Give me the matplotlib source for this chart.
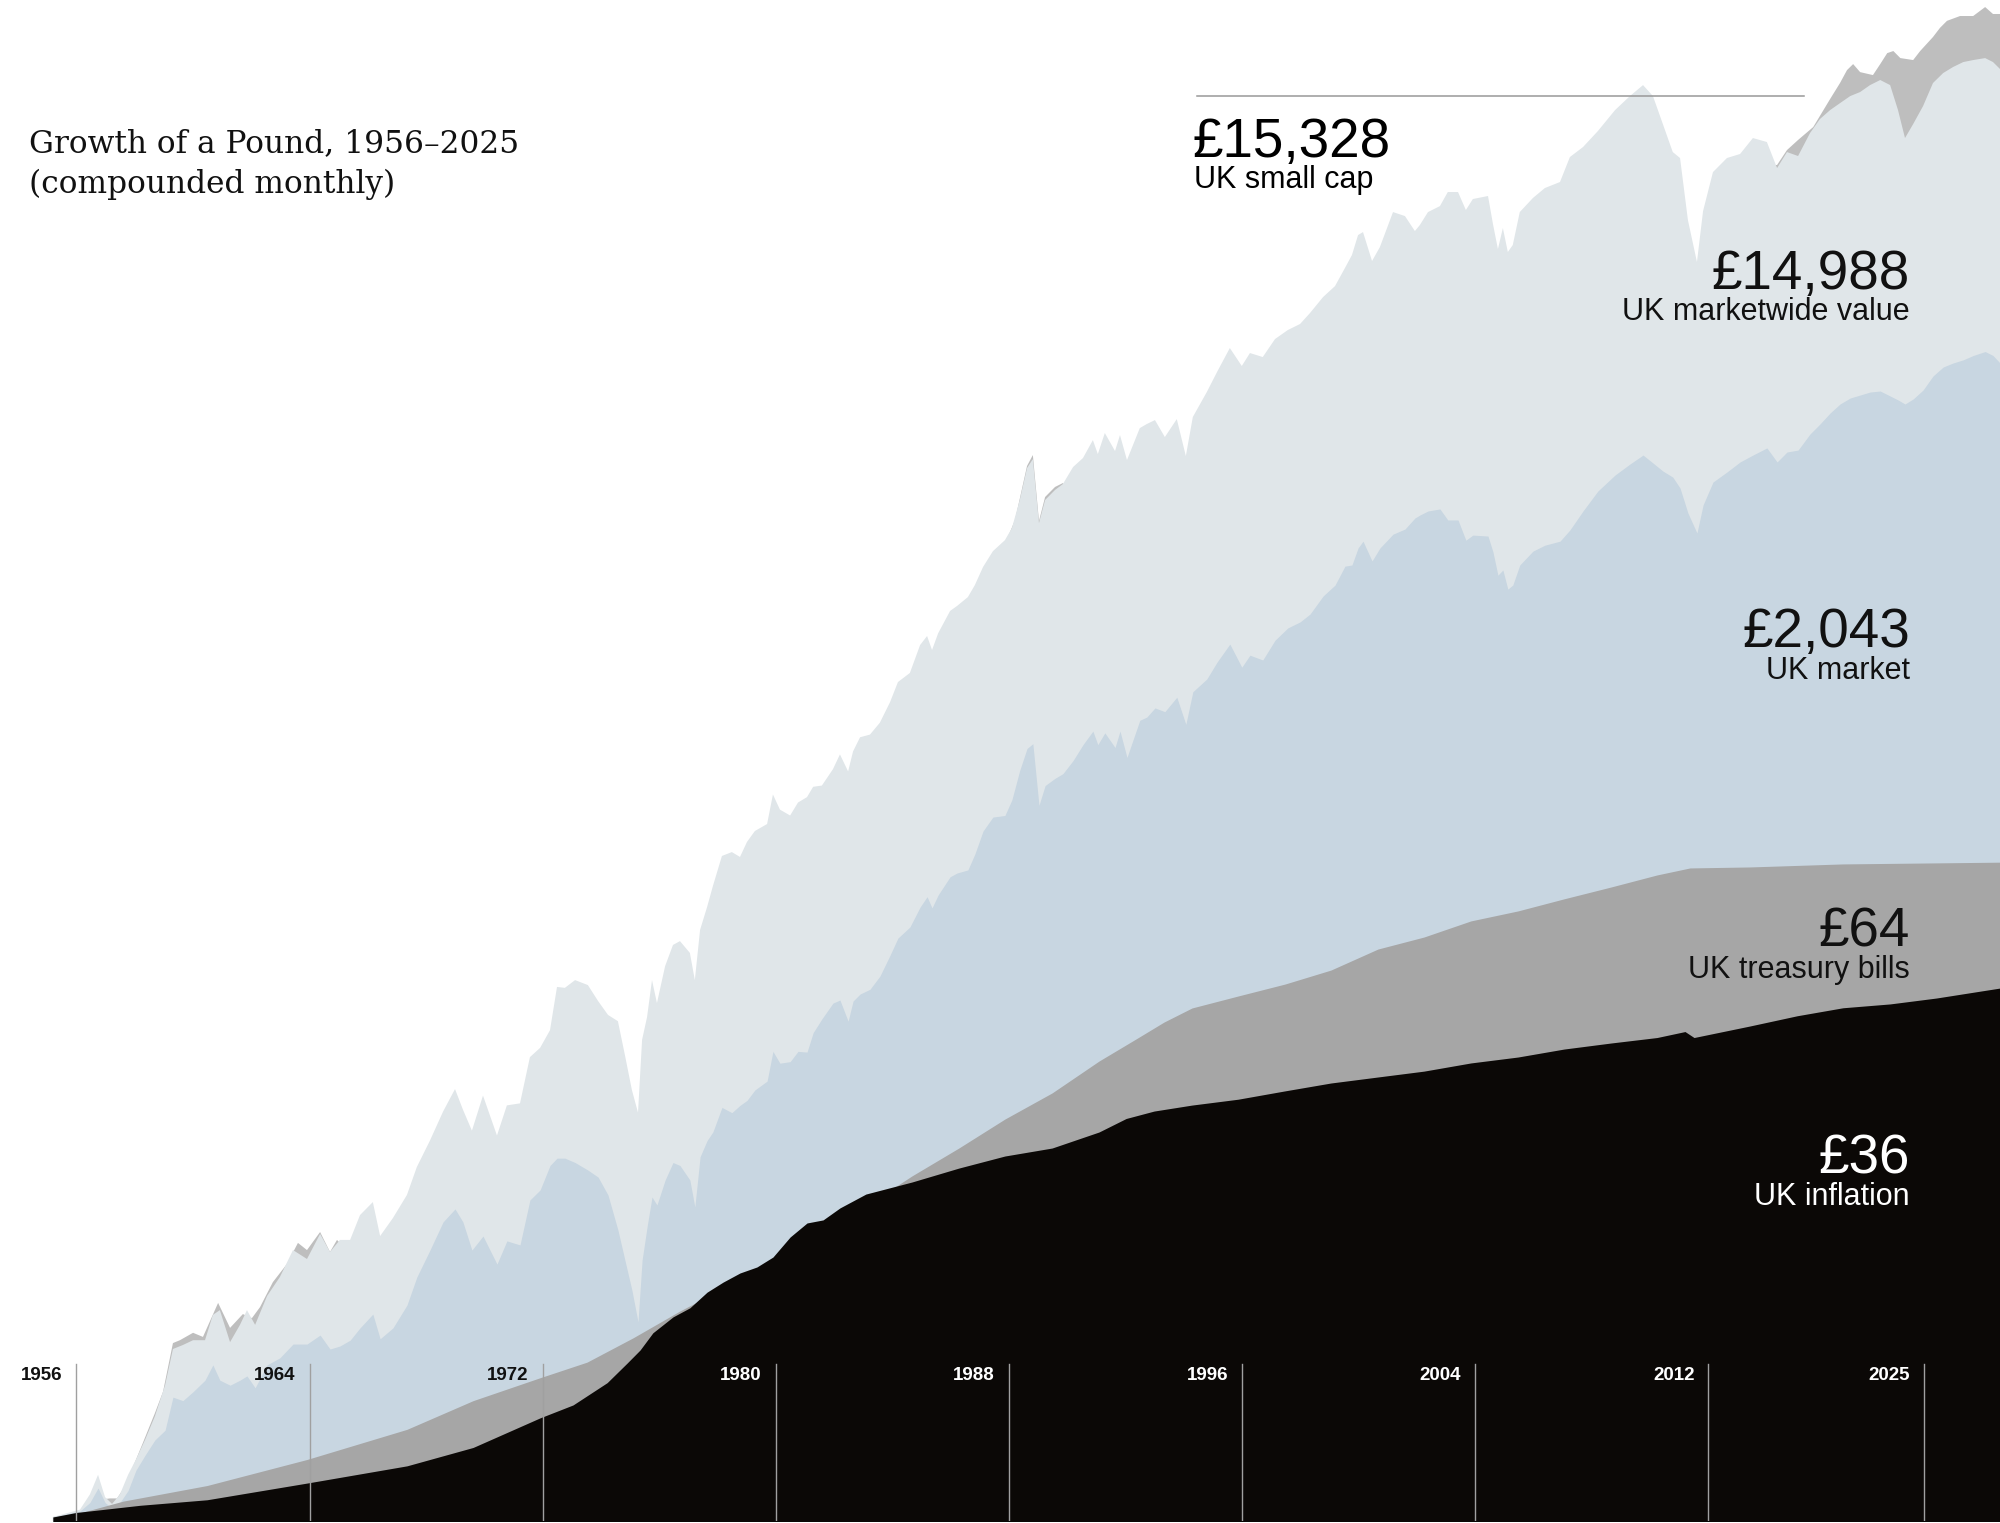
import matplotlib
matplotlib.use("Agg")
import matplotlib.pyplot as plt

# growth of 1 pound (log scale)
years = [1955.19, 1956.12, 1956.46, 1956.74, 1956.98, 1957.22, 1957.49, 1957.77, 1958.04, 1958.35,
         1958.69, 1959.04, 1959.31, 1959.65, 1960.00, 1960.41, 1960.68, 1960.92, 1961.27, 1961.61,
         1961.85, 1962.13, 1962.54, 1962.98, 1963.43, 1963.91, 1964.36, 1964.70, 1965.04, 1965.39,
         1965.73, 1966.17, 1966.42, 1966.86, 1967.34, 1967.68, 1968.13, 1968.58, 1968.99, 1969.26,
         1969.57, 1969.95, 1970.43, 1970.77, 1971.22, 1971.56, 1971.91, 1972.25, 1972.49, 1972.76,
         1973.11, 1973.55, 1973.90, 1974.24, 1974.58, 1974.82, 1975.06, 1975.27, 1975.41, 1975.58,
         1975.75, 1975.92, 1976.20, 1976.47, 1976.71, 1977.05, 1977.22, 1977.40, 1977.64, 1977.84,
         1978.15, 1978.49, 1978.77, 1979.01, 1979.28, 1979.70, 1979.90, 1980.14, 1980.49, 1980.76,
         1981.07, 1981.28, 1981.58, 1981.96, 1982.20, 1982.48, 1982.65, 1982.89, 1983.23, 1983.57,
         1983.92, 1984.19, 1984.60, 1984.95, 1985.19, 1985.36, 1985.57, 1985.98, 1986.22, 1986.59,
         1986.83, 1987.11, 1987.45, 1987.86, 1988.10, 1988.37, 1988.62, 1988.82, 1989.03, 1989.24,
         1989.58, 1989.85, 1990.20, 1990.54, 1990.88, 1991.05, 1991.29, 1991.64, 1991.81, 1992.05,
         1992.49, 1992.73, 1993.01, 1993.35, 1993.76, 1994.07, 1994.31, 1994.79, 1995.14, 1995.58,
         1995.99, 1996.27, 1996.71, 1997.13, 1997.57, 1997.99, 1998.33, 1998.78, 1999.19, 1999.53,
         1999.77, 1999.98, 2000.15, 2000.46, 2000.73, 2001.18, 2001.59, 2001.93, 2002.10, 2002.38,
         2002.79, 2003.06, 2003.41, 2003.68, 2003.92, 2004.44, 2004.61, 2004.78, 2004.95, 2005.12,
         2005.29, 2005.53, 2005.98, 2006.39, 2006.91, 2007.25, 2007.70, 2008.21, 2008.80, 2009.31,
         2009.76, 2010.10, 2010.44, 2010.78, 2011.03, 2011.30, 2011.61, 2011.82, 2012.16, 2012.64,
         2013.09, 2013.53, 2014.01, 2014.36, 2014.70, 2015.08, 2015.49, 2015.83, 2016.18, 2016.52,
         2016.87, 2017.21, 2017.55, 2017.90, 2018.24, 2018.51, 2018.75, 2019.03, 2019.37, 2019.71,
         2020.06, 2020.40, 2020.75, 2021.09, 2021.50, 2021.77, 2022.01]

mkt_value = [1.00, 1.05, 1.16, 1.32, 1.14, 1.09, 1.16, 1.32, 1.46, 1.66,
             1.94, 2.38, 3.02, 3.10, 3.20, 3.20, 3.78, 3.90, 3.16, 3.54,
             3.90, 3.54, 4.28, 4.85, 5.79, 5.46, 6.44, 5.72, 6.19, 6.19,
             7.29, 7.94, 6.35, 7.15, 8.32, 10.0, 11.9, 14.4, 16.7, 14.6,
             12.7, 16.0, 12.3, 15.0, 15.2, 20.6, 21.9, 24.6, 32.7, 32.5,
             34.2, 33.1, 29.8, 27.2, 26.1, 20.9, 16.6, 14.3, 23.1, 26.8,
             34.2, 29.4, 37.5, 43.1, 44.2, 40.9, 34.2, 47.6, 55.3, 63.5,
             77.4, 79.4, 76.9, 84.9, 91.2, 95.5, 116, 105, 101, 110,
             114, 122, 123, 137, 151, 135, 154, 169, 172, 186,
             213, 243, 258, 310, 329, 300, 335, 388, 401, 425,
             460, 518, 575, 618, 669, 805, 993, 1054, 692, 805,
             860, 894, 1000, 1061, 1194, 1089, 1251, 1111, 1234, 1047,
             1292, 1327, 1362, 1218, 1371, 1075, 1390, 1638, 1868, 2188,
             1944, 2117, 2062, 2321, 2463, 2563, 2754, 3060, 3289, 3704,
             4034, 4601, 4692, 3878, 4252, 5352, 5213, 4724, 4913, 5352,
             5567, 6106, 6106, 5425, 5832, 5948, 4946, 4196, 4818, 4115,
             4309, 5352, 5870, 6268, 6522, 7687, 8209, 9120, 10470, 11480,
             12340, 11480, 9550, 7943, 7638, 5078, 3853, 5388, 6963, 7638,
             7842, 8710, 8485, 7150, 7943, 7739, 9000, 9870, 10470, 10960,
             11480, 11790, 12340, 12760, 12340, 10470, 8710, 9550, 10750, 12510,
             13360, 13900, 14360, 14550, 14740, 14360, 13720]

market = [1.00, 1.04, 1.10, 1.21, 1.10, 1.06, 1.10, 1.19, 1.36, 1.50,
          1.66, 1.77, 2.20, 2.15, 2.28, 2.46, 2.72, 2.46, 2.38, 2.46,
          2.53, 2.34, 2.72, 2.85, 3.12, 3.12, 3.31, 3.02, 3.08, 3.20,
          3.47, 3.80, 3.23, 3.47, 4.03, 4.85, 5.79, 6.97, 7.59, 6.97,
          5.79, 6.35, 5.28, 6.15, 5.99, 8.05, 8.60, 10.1, 10.6, 10.6,
          10.3, 9.80, 9.36, 8.32, 6.61, 5.42, 4.45, 3.61, 5.42, 6.74,
          8.21, 7.79, 9.18, 10.3, 10.1, 9.18, 7.69, 10.7, 11.9, 12.6,
          14.8, 14.3, 15.0, 15.5, 16.6, 17.6, 21.4, 19.8, 20.0, 21.4,
          21.3, 24.2, 26.5, 29.4, 30.0, 26.1, 29.8, 31.2, 32.2, 35.1,
          40.3, 45.1, 48.5, 55.3, 59.2, 55.0, 59.9, 67.5, 69.2, 70.6,
          78.4, 91.2, 100, 101, 112, 136, 157, 162, 108, 123,
          129, 133, 145, 161, 176, 161, 174, 158, 176, 148,
          189, 193, 205, 200, 220, 184, 228, 248, 277, 312,
          268, 290, 281, 320, 347, 361, 380, 428, 460, 521,
          525, 587, 614, 539, 587, 643, 665, 715, 729, 749,
          759, 706, 706, 618, 639, 635, 572, 491, 508, 448,
          460, 525, 575, 598, 614, 661, 749, 854, 949, 1020,
          1082, 1027, 974, 936, 871, 739, 648, 779, 906, 968,
          1034, 1082, 1134, 1034, 1104, 1118, 1243, 1327, 1427, 1514,
          1575, 1606, 1638, 1649, 1596, 1555, 1514, 1565, 1660, 1820,
          1931, 1983, 2025, 2083, 2138, 2083, 1983]

sc_years = [1955.19, 1956.12, 1956.74, 1957.15, 1957.39, 1957.60, 1957.94, 1958.28, 1958.69, 1958.97,
            1959.31, 1959.55, 1960.00, 1960.34, 1960.86, 1961.27, 1961.71, 1962.02, 1962.30, 1962.74,
            1963.22, 1963.60, 1963.91, 1964.36, 1964.70, 1964.94, 1965.28, 1965.90, 1967.79, 1968.99,
            1970.53, 1971.91, 1972.59, 1974.31, 1974.82, 1975.27, 1975.75, 1977.40, 1978.43, 1980.14,
            1982.54, 1984.26, 1985.98, 1987.35, 1988.21, 1988.62, 1988.82, 1989.03, 1989.24, 1989.58,
            1989.85, 1990.27, 1992.15, 1994.07, 1995.58, 1996.61, 1997.99, 1999.70, 2000.56, 2002.10,
            2003.82, 2005.12, 2006.22, 2008.28, 2009.83, 2010.51, 2011.61, 2012.40, 2013.77, 2014.36,
            2014.70, 2015.08, 2015.60, 2016.18, 2016.52, 2016.76, 2016.97, 2017.21, 2017.65, 2017.90,
            2018.14, 2018.35, 2018.59, 2019.03, 2019.27, 2019.71, 2019.95, 2020.19, 2020.64, 2021.09,
            2021.50, 2021.77, 2022.01]

small_cap = [1.00, 1.03, 1.12, 1.13, 1.13, 1.20, 1.39, 1.63, 1.98, 2.28,
             3.14, 3.20, 3.36, 3.27, 4.09, 3.47, 3.80, 3.70, 3.98, 4.69,
             5.28, 6.07, 5.79, 6.52, 5.72, 6.19, 5.79, 5.35, 7.06, 10.1,
             10.5, 16.6, 21.6, 20.2, 16.6, 12.8, 24.6, 32.0, 58.0, 75.4,
             112, 177, 281, 475, 706, 1007, 1082, 701, 821, 877,
             900, 832, 949, 986, 1772, 1836, 2232, 3206, 3531, 4169,
             4601, 3775, 5248, 7535, 10130, 8048, 3531, 5794, 7295, 7295,
             8048, 8600, 9363, 11260, 12510, 13620, 14170, 13440, 13180, 14170,
             15230, 15440, 14740, 14550, 15440, 16930, 17980, 18830, 19440, 19440,
             20620, 19700, 19700]

tb_years = [1955.19, 1955.98, 1957.60, 1960.48, 1963.91, 1967.34, 1969.61, 1971.91, 1973.52, 1975.10,
            1976.71, 1978.29, 1979.90, 1981.48, 1983.09, 1984.67, 1986.28, 1987.86, 1989.48, 1991.09,
            1992.36, 1993.32, 1994.28, 1995.86, 1997.47, 1999.05, 2000.66, 2002.24, 2003.85, 2005.47,
            2007.05, 2008.66, 2010.24, 2011.37, 2013.43, 2016.62, 2022.01]

tbills = [1.00, 1.02, 1.11, 1.23, 1.46, 1.78, 2.15, 2.50, 2.77, 3.25,
          3.88, 4.54, 5.18, 6.23, 7.74, 9.43, 11.33, 13.71, 16.28, 20.08,
          23.22, 25.95, 28.47, 30.80, 33.32, 36.54, 41.95, 45.40, 50.48, 53.92,
          58.38, 63.10, 68.31, 71.53, 72.0, 73.45, 74.3]

inf_years = [1955.19, 1955.98, 1958.18, 1960.48, 1963.91, 1967.34, 1969.61, 1971.91, 1973.04, 1974.21,
             1974.89, 1975.34, 1975.78, 1976.47, 1977.05, 1977.64, 1978.19, 1978.77, 1979.35, 1979.90,
             1980.49, 1981.07, 1981.62, 1982.20, 1983.09, 1984.67, 1986.28, 1987.86, 1989.48, 1991.09,
             1992.02, 1992.98, 1994.28, 1995.86, 1997.47, 1999.05, 2000.66, 2002.24, 2003.85, 2005.47,
             2007.05, 2008.66, 2010.24, 2011.20, 2011.51, 2013.43, 2015.05, 2016.62, 2018.24, 2019.83,
             2022.01]

inflation = [1.00, 1.03, 1.08, 1.12, 1.25, 1.40, 1.58, 1.92, 2.09, 2.42,
             2.75, 3.00, 3.36, 3.73, 3.96, 4.39, 4.69, 4.98, 5.18, 5.53,
             6.31, 6.92, 7.06, 7.64, 8.37, 9.06, 9.93, 10.75, 11.33, 12.59,
             13.76, 14.45, 15.03, 15.62, 16.50, 17.38, 18.08, 18.79, 19.83, 20.62,
             21.73, 22.61, 23.44, 24.38, 23.44, 25.29, 27.05, 28.51, 29.24, 30.40,
             32.46]

tick_pos = [1956, 1964, 1972, 1980, 1988, 1996, 2004, 2012, 2019.4]
tick_labels = ['1956', '1964', '1972', '1980', '1988', '1996', '2004', '2012', '2025']

W, H = 2000, 1523
fig = plt.figure(figsize=(W / 100, H / 100), dpi=100)
ax = fig.add_axes([0, 2 / H, 1, 1 - 2 / H])
ax.set_yscale('log')
ax.set_xlim(1953.375, 2022.01)
ax.set_ylim(0.974, 21600)
ax.axis('off')

floor = 0.5
ax.fill_between(sc_years, floor, small_cap, color='#bebebe', lw=0)
ax.fill_between(years, floor, mkt_value, color='#e0e6e9', lw=0)
ax.fill_between(years, floor, market, color='#c8d6e1', lw=0)
ax.fill_between(tb_years, floor, tbills, color='#a6a6a6', lw=0)
ax.fill_between(inf_years, floor, inflation, color='#0b0806', lw=0)

# year markers
line_top = (1521 - 1364) / 1521
label_y = (1521 - 1375) / 1521
for i, (yr, lab) in enumerate(zip(tick_pos, tick_labels)):
    ax.axvline(yr, ymin=0, ymax=line_top, color='#a0a0a0', lw=1.0)
    ax.annotate(lab, xy=(yr, label_y), xycoords=('data', 'axes fraction'),
                xytext=(-10, 0), textcoords='offset points', ha='right', va='center',
                fontsize=13.5, fontweight='bold', family='Liberation Sans',
                color='#111111' if i < 3 else 'white')


def px(x, y):
    return x / W, 1 - y / H


sans = 'Liberation Sans'
big, small = 39.5, 22

fig.text(*px(29, 152), 'Growth of a Pound, 1956\u20132025', family='DejaVu Serif',
         fontsize=22.5, color='#111111', va='baseline')
fig.text(*px(29, 193), '(compounded monthly)', family='DejaVu Serif',
         fontsize=22.5, color='#111111', va='baseline')

fig.lines.append(plt.Line2D([1197 / W, 1804 / W], [1 - 96 / H, 1 - 96 / H],
                            transform=fig.transFigure, color='#999999', lw=1.1))

fig.text(*px(1193, 157), '\u00a315,328', family=sans, fontsize=big, va='baseline')
fig.text(*px(1194, 188), 'UK small cap', family=sans, fontsize=small, va='baseline')

right = 1910
labels = [
    ('\u00a314,988', 'UK marketwide value', 289, 320, '#111111'),
    ('\u00a32,043', 'UK market', 647, 679, '#111111'),
    ('\u00a364', 'UK treasury bills', 947, 978, '#111111'),
    ('\u00a336', 'UK inflation', 1173, 1205, 'white'),
]
for num, name, yb, ys, col in labels:
    fig.text(*px(right, yb), num, family=sans, fontsize=big, ha='right',
             va='baseline', color=col)
    fig.text(*px(right, ys), name, family=sans, fontsize=small, ha='right',
             va='baseline', color=col)

fig.savefig('out.png', dpi=100)
